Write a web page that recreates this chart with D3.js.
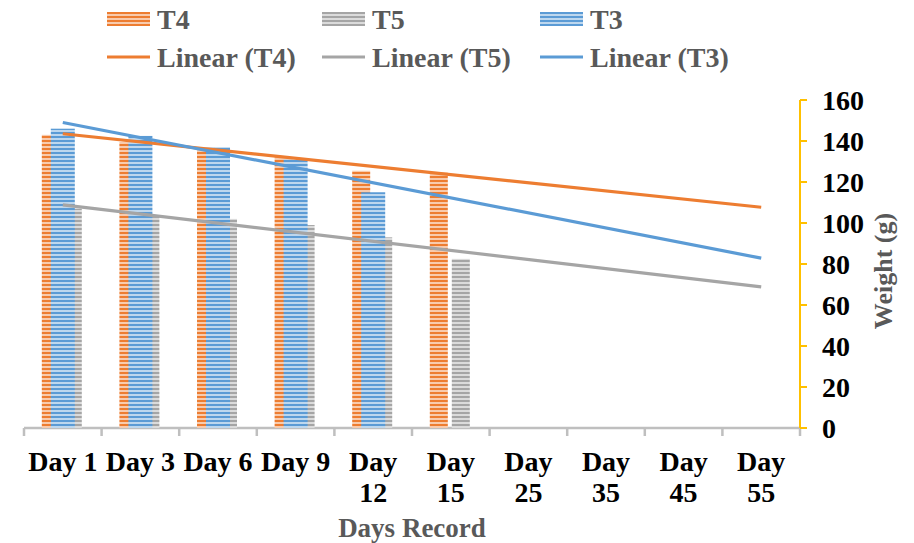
<!DOCTYPE html>
<html><head><meta charset="utf-8">
<script src="https://cdn.jsdelivr.net/npm/d3@7/dist/d3.min.js"></script>
<style>body{margin:0;background:#fff}svg{display:block}text{font-family:"Liberation Serif","Times New Roman",serif;font-weight:bold}</style>
</head><body><svg id="c" width="914" height="543"></svg>
<script>
const categories = ["Day 1","Day 3","Day 6","Day 9","Day 12","Day 15","Day 25","Day 35","Day 45","Day 55"];
const t4 = [143,139.5,137,132,125.5,124.5,null,null,null,null];
const t5 = [107,103,102,99,93,82.5,null,null,null,null];
const t3 = [146,142.5,137,131,115,null,null,null,null,null];
const yTicks = [0,20,40,60,80,100,120,140,160];
const seriesNames = ["T4","T5","T3"];
const colors = {T4:"#ED7D31",T5:"#A5A5A5",T3:"#5B9BD5"};
const lights = {T4:"#F8CBAD",T5:"#DBDBDB",T3:"#BDD7EE"};

const svg = d3.select("#c");
const x = d3.scaleBand().domain(categories).range([24,800]).padding(0);
const y = d3.scaleLinear().domain([0,160]).range([428,100]);
const bw = x.bandwidth();

// patterns
const defs = svg.append("defs");
seriesNames.forEach(s=>{
  const p = defs.append("pattern").attr("id","p"+s).attr("patternUnits","userSpaceOnUse").attr("width",4).attr("height",4);
  p.append("rect").attr("width",4).attr("height",4).attr("fill",lights[s]);
  p.append("rect").attr("width",4).attr("height",2).attr("fill",colors[s]);
});

// x axis
const xAxisG = svg.append("g").attr("transform","translate(0,428)");
xAxisG.append("line").attr("x1",24).attr("x2",800).attr("stroke","#BFBFBF").attr("stroke-width",2.5);
const bounds = categories.map(c=>x(c)).concat([x(categories[categories.length-1])+bw]);
xAxisG.selectAll("line.t").data(bounds).join("line").attr("class","t")
  .attr("x1",d=>d).attr("x2",d=>d).attr("y1",0).attr("y2",8).attr("stroke","#BFBFBF").attr("stroke-width",2.5);

// bars
const barSpec = [
  {s:"T4", data:t4, off:-21, w:18},
  {s:"T5", data:t5, off:1, w:18},
  {s:"T3", data:t3, off:-12, w:24}
];
barSpec.forEach(b=>{
  svg.append("g").selectAll("rect").data(categories.map((c,i)=>({c,v:b.data[i]})).filter(d=>d.v!=null))
    .join("rect")
    .attr("x",d=>x(d.c)+bw/2+b.off*bw/77.6)
    .attr("width",b.w*bw/77.6)
    .attr("y",d=>y(d.v))
    .attr("height",d=>y(0)-y(d.v))
    .attr("fill","url(#p"+b.s+")");
});

// linear trendlines (least squares over available points, forecast to last category)
function trend(data){
  const pts = data.map((v,i)=>[i+1,v]).filter(p=>p[1]!=null);
  const mx=d3.mean(pts,p=>p[0]), my=d3.mean(pts,p=>p[1]);
  const sl = d3.sum(pts,p=>(p[0]-mx)*(p[1]-my))/d3.sum(pts,p=>(p[0]-mx)*(p[0]-mx));
  return [[1,my+sl*(1-mx)],[categories.length,my+sl*(categories.length-mx)]];
}
const line = d3.line().x(d=>x(categories[d[0]-1])+bw/2).y(d=>y(d[1]));
[["T4",t4],["T5",t5],["T3",t3]].forEach(([s,d])=>{
  svg.append("path").attr("d",line(trend(d))).attr("stroke",colors[s]).attr("stroke-width",3.2).attr("fill","none");
});

// y axis (right)
const yAxisG = svg.append("g").attr("transform","translate(800,0)");
yAxisG.append("line").attr("y1",y(0)).attr("y2",y(160)).attr("stroke","#FFC000").attr("stroke-width",2);
yAxisG.selectAll("line.t").data(yTicks).join("line").attr("class","t")
  .attr("x1",0).attr("x2",7).attr("y1",d=>y(d)).attr("y2",d=>y(d)).attr("stroke","#FFC000").attr("stroke-width",2);
yAxisG.selectAll("text").data(yTicks).join("text")
  .attr("x",22).attr("y",d=>y(d)).attr("dy","0.35em").attr("font-size",28).attr("fill","#000").text(d=>d);

// x tick labels
const lab = svg.append("g");
categories.forEach(c=>{
  const cx = x(c)+bw/2;
  const t = lab.append("text").attr("x",cx).attr("y",471).attr("text-anchor","middle").attr("font-size",28).attr("fill","#000");
  const parts = c.split(" ");
  if (parts[1].length>1){
    t.append("tspan").attr("x",cx).text(parts[0]);
    t.append("tspan").attr("x",cx).attr("dy",31).text(parts[1]);
  } else t.text(c);
});

// axis titles
svg.append("text").attr("x",412).attr("y",537).attr("text-anchor","middle").attr("font-size",27).attr("fill","#595959").text("Days Record");
svg.append("text").attr("transform","translate(892,271) rotate(-90)").attr("text-anchor","middle").attr("font-size",26).attr("fill","#595959").text("Weight (g)");

// legend
const leg = [
  {type:"bar",s:"T4",label:"T4",x:107,y:19},
  {type:"bar",s:"T5",label:"T5",x:322,y:19},
  {type:"bar",s:"T3",label:"T3",x:540,y:19},
  {type:"line",s:"T4",label:"Linear (T4)",x:107,y:57},
  {type:"line",s:"T5",label:"Linear (T5)",x:322,y:57},
  {type:"line",s:"T3",label:"Linear (T3)",x:540,y:57}
];
leg.forEach(l=>{
  const g = svg.append("g");
  if(l.type==="bar") g.append("rect").attr("x",l.x).attr("y",l.y-7).attr("width",43).attr("height",14).attr("fill","url(#p"+l.s+")");
  else g.append("line").attr("x1",l.x).attr("x2",l.x+43).attr("y1",l.y).attr("y2",l.y).attr("stroke",colors[l.s]).attr("stroke-width",3.2);
  g.append("text").attr("x",l.x+50).attr("y",l.y).attr("dy","0.35em").attr("font-size",28).attr("fill","#595959").text(l.label);
});
</script></body></html>
